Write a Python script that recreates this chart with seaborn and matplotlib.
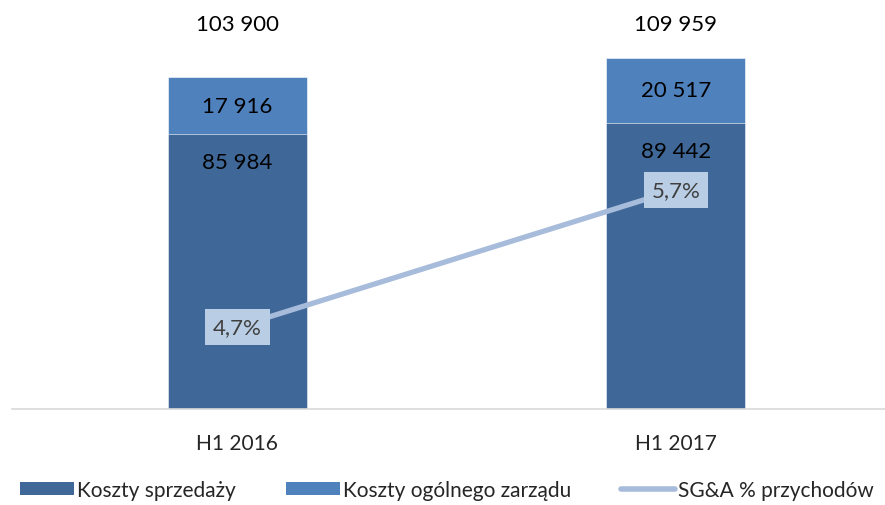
import numpy as np
import pandas as pd
import matplotlib
matplotlib.use("Agg")
import matplotlib.pyplot as plt
from matplotlib.patches import Patch
from matplotlib.lines import Line2D
import seaborn as sns

periods = ["H1 2016", "H1 2017"]
koszty_sprzedazy = [85984, 89442]
koszty_zarzadu = [17916, 20517]
sga_pct = [4.7, 5.7]
totals = [a + b for a, b in zip(koszty_sprzedazy, koszty_zarzadu)]

dark = "#3F6898"
light = "#4F81BD"
line_c = "#A7BBDB"
box_c = "#B9CDE5"

sns.set_theme(style="white")
plt.rcParams["font.family"] = ["Lato", "DejaVu Sans"]

def fmt(v):
    return f"{v:,}".replace(",", " ")

df = pd.DataFrame({"okres": periods, "sprzedaz": koszty_sprzedazy, "total": totals})

fig = plt.figure(figsize=(8.85, 5.06), dpi=100)
ax = fig.add_axes([12 / 885, 96 / 506, 873 / 885, 410 / 506])

# light (total) bar underneath, dark bottom segment on top
sns.barplot(data=df, x="okres", y="total", color=light, width=0.317,
            saturation=1, ax=ax, edgecolor="white", linewidth=0.4)
sns.barplot(data=df, x="okres", y="sprzedaz", color=dark, width=0.317,
            saturation=1, ax=ax, edgecolor="white", linewidth=0.4)

ax.set_xlim(-0.514, 1.477)
ax.set_ylim(0, 128300)
ax.set_xlabel("")
ax.set_ylabel("")
ax.set_yticks([])
ax.tick_params(axis="x", length=0, pad=17, labelsize=15)
for s in ["top", "left", "right"]:
    ax.spines[s].set_visible(False)
ax.spines["bottom"].set_color("#D9D9D9")
ax.spines["bottom"].set_linewidth(1.2)

for i in range(len(periods)):
    ax.annotate(fmt(koszty_sprzedazy[i]), (i, koszty_sprzedazy[i]), xytext=(0, -20),
                textcoords="offset points", ha="center", va="center", fontsize=16, color="black")
    ax.text(i, koszty_sprzedazy[i] + koszty_zarzadu[i] / 2, fmt(koszty_zarzadu[i]),
            ha="center", va="center", fontsize=16, color="black")
    ax.text(i, 0.939, fmt(totals[i]), transform=ax.get_xaxis_transform(),
            ha="center", va="center", fontsize=16, color="black")

ax2 = ax.twinx()
sns.lineplot(x=[0, 1], y=sga_pct, ax=ax2, color=line_c, linewidth=3.8)
ax2.set_ylim(4.1, 7.094)
ax2.set_xlim(-0.514, 1.477)
ax2.set_yticks([])
ax2.set_ylabel("")
for s in ax2.spines.values():
    s.set_visible(False)
for i, v in enumerate(sga_pct):
    ax2.text(i, v, f"{v:.1f}%".replace(".", ","), ha="center", va="center",
             fontsize=16, color="#404040",
             bbox=dict(boxstyle="square,pad=0.35", fc=box_c, ec="none"))

handles = [Patch(facecolor=dark, edgecolor="none"),
           Patch(facecolor=light, edgecolor="none"),
           Line2D([0], [0], color=line_c, linewidth=4)]
labels = ["Koszty sprzedaży", "Koszty ogólnego zarządu", "SG&A % przychodów"]
fig.legend(handles, labels, loc="lower center", bbox_to_anchor=(0.505, -0.006), ncol=3,
           frameon=False, fontsize=15, handlelength=2.6, handleheight=0.6,
           handletextpad=0.15, columnspacing=2.4, borderaxespad=0)

fig.savefig("out.png", dpi=100)
